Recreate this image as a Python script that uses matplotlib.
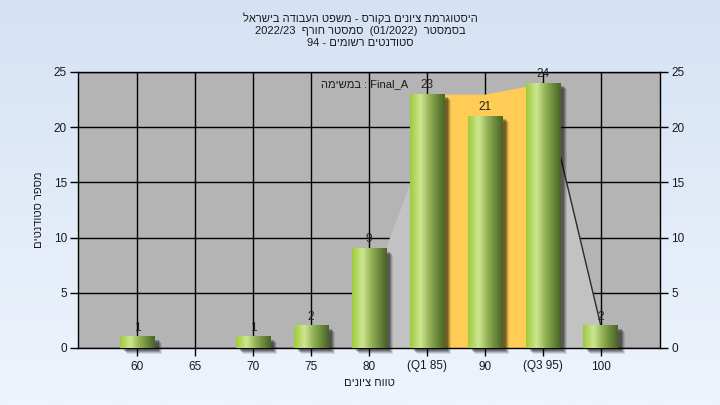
import numpy as np
import matplotlib
matplotlib.use("Agg")
import matplotlib.pyplot as plt
from matplotlib.colors import LinearSegmentedColormap
from matplotlib.patches import Rectangle
from matplotlib.transforms import offset_copy

plt.rcParams['font.family'] = ['Liberation Sans', 'DejaVu Sans']

# ---- data ----
categories = ['60', '65', '70', '75', '80', '(Q1 85)', '90', '(Q3 95)', '100']
counts = [1, 0, 1, 2, 9, 23, 21, 24, 2]
band_idx = [5, 6, 7]            # Q1..Q3 band
band_top = [23, 23, 24]
title_lines = ['היסטוגרמת ציונים בקורס - משפט העבודה בישראל',
               'בסמסטר  (01/2022)  סמסטר חורף  2022/23',
               'סטודנטים רשומים - 94']
xlabel = 'טווח ציונים'
ylabel = 'מספר סטודנטים'
task_word = 'במשימה'
task_name = 'Final_A'
yticks = [0, 5, 10, 15, 20, 25]


def is_heb(t):
    return any('\u0590' <= c <= '\u05ff' for c in t)


def vis(s):
    toks = s.split(' ')
    return ' '.join(reversed([t[::-1] if is_heb(t) else t for t in toks]))


fig = plt.figure(figsize=(7.2, 4.05), dpi=100)

# background gradient
bg = fig.add_axes([0, 0, 1, 1], zorder=-10)
bg_cmap = LinearSegmentedColormap.from_list('bg', ['#d5e2f4', '#eef4fc'])
bg.imshow(np.linspace(0, 1, 256).reshape(-1, 1), aspect='auto', cmap=bg_cmap,
          extent=[0, 1, 0, 1])
bg.set_axis_off()

ax = fig.add_axes([78 / 720, 1 - 348 / 405, 582 / 720, 276 / 405])
ax.set_facecolor('#b4b4b4')
ax.set_axisbelow(True)
ax.grid(True, color='black', linewidth=1)

x = np.arange(len(categories))
w = 0.6

# light area segments (line between bar tops)
ax.fill_between([x[4] + 0.28, x[5] + 0.28], [counts[4], counts[5]], 0,
                color='#c2c2c2', linewidth=0, zorder=1)
ax.fill_between([x[7], x[8]], [counts[7], counts[8]], 0,
                color='#c2c2c2', linewidth=0, zorder=1)
ax.plot([x[7], x[8]], [counts[7], counts[8]], color='#2a2a2a', lw=1, zorder=1.5)

# quartile band
ax.fill_between([x[i] for i in band_idx], band_top, 0, color='#ffcc55',
                linewidth=0, zorder=1.2)

# bars with shadows and cylinder gradient
bar_cmap = LinearSegmentedColormap.from_list(
    'bar', [(0.0, '#9dcb3c'), (0.3, '#cfe691'), (0.55, '#95b456'),
            (0.8, '#67863a'), (1.0, '#4a6424')])
grad = np.linspace(0, 1, 128).reshape(1, -1)
for i, v in enumerate(counts):
    if v <= 0:
        continue
    for dx, a in [(7, 0.10), (6, 0.14), (5, 0.2), (4, 0.25)]:
        tr = offset_copy(ax.transData, fig=fig, x=dx, y=-dx + 1, units='dots')
        ax.add_patch(Rectangle((x[i] - w / 2, 0), w, v, transform=tr,
                               facecolor='black', alpha=a, linewidth=0,
                               zorder=2, clip_on=False))
    ax.imshow(grad, extent=[x[i] - w / 2, x[i] + w / 2, 0, v], aspect='auto',
              cmap=bar_cmap, zorder=3, interpolation='bilinear')
    ax.text(x[i], v + 0.3, str(v), ha='center', va='bottom', fontsize=8.5,
            color='#222222', zorder=4)

ax.set_xlim(-1.02, 9.02)
ax.set_ylim(0, 25)
ax.set_xticks(x)
ax.set_xticklabels(categories)
ax.set_yticks(yticks)
ax.tick_params(axis='both', direction='out', length=6, width=1, colors='black',
               labelsize=8.5, labelcolor='#1a1a1a')
ax.tick_params(axis='y', left=True, right=True, labelleft=True, labelright=True,
               pad=2)
ax.tick_params(axis='x', pad=3)
for sp in ax.spines.values():
    sp.set_color('black')
    sp.set_linewidth(1)

ax.set_xlabel(vis(xlabel), fontsize=8, color='#1a1a1a', labelpad=4)
ax.set_ylabel(vis(ylabel), fontsize=8, color='#1a1a1a', labelpad=7)

ax.text(x[5] - 0.32, 23.9, task_word[::-1] + ' : ' + task_name, ha='right',
        va='center', fontsize=8, color='#1a1a1a', zorder=5)

for j, line in enumerate(title_lines):
    fig.text(0.5, 1 - (18 + 12.5 * j) / 405, vis(line), ha='center',
             va='center', fontsize=8, color='#1a1a1a')

fig.savefig('out.png', dpi=100)
